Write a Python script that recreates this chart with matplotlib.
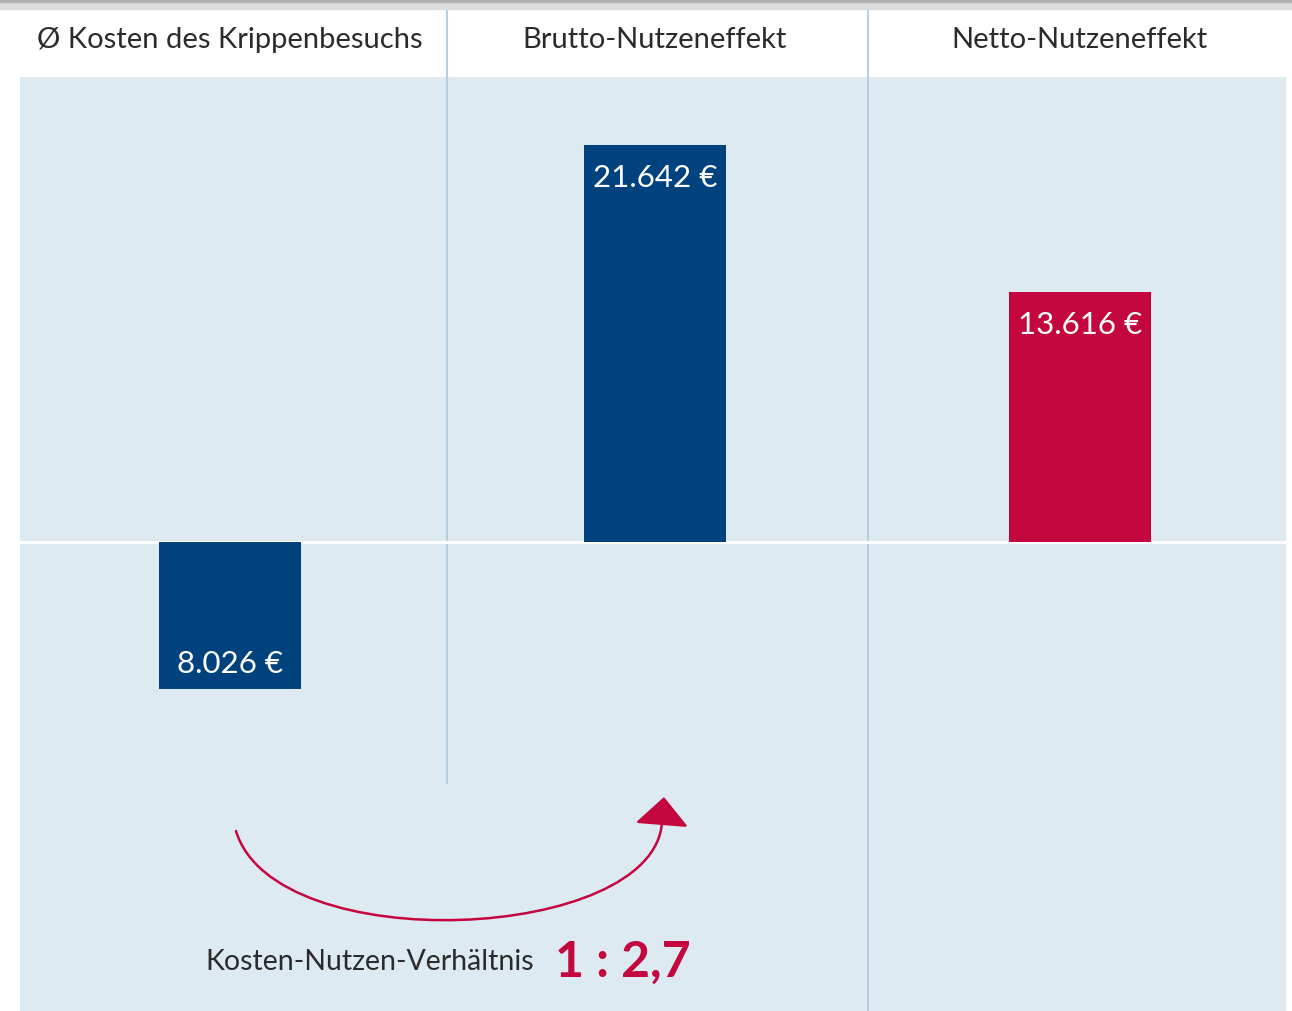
import matplotlib
matplotlib.use('Agg')
from matplotlib import pyplot as plt
from matplotlib.patches import Rectangle, FancyArrowPatch
from matplotlib.path import Path

plt.rcParams['font.family'] = ['Lato', 'DejaVu Sans']

# data
categories = ['Ø Kosten des Krippenbesuchs', 'Brutto-Nutzeneffekt', 'Netto-Nutzeneffekt']
values = [-8026, 21642, 13616]
value_labels = ['8.026 €', '21.642 €', '13.616 €']
ratio_label = 'Kosten-Nutzen-Verhältnis'
ratio_value = '1 : 2,7'

BLUE = '#00427e'
RED = '#c4063f'
PANEL = '#deeaf2'
SEP = '#b6d0e0'
TEXT = '#2b2b2b'
bar_colors = [BLUE, BLUE, RED]

W, H = 1292, 1011
fig = plt.figure(figsize=(W / 100, H / 100), dpi=100)

# grey strip on top
fig.patches.append(Rectangle((0, 1 - 9 / H), 1, 9 / H, transform=fig.transFigure,
                             color='#dcdcdc', zorder=0))
fig.patches.append(Rectangle((0, 1 - 2 / H), 1, 2 / H, transform=fig.transFigure,
                             color='#b0b0b0', zorder=0))

# panel axes: x 20..1286 px, y 77..1011 px
ax = fig.add_axes([20 / W, 0, 1266 / W, 934 / H])
ax.set_facecolor(PANEL)
for s in ax.spines.values():
    s.set_visible(False)
ax.set_xticks([])
ax.set_yticks([])

PX_X = 425          # px per category step
X0 = 230            # px of first category centre
px_per_unit = 0.01835
ax.set_xlim(-(X0 - 20) / PX_X, (1286 - X0) / PX_X)
ax.set_ylim(-469 / px_per_unit, 465 / px_per_unit)

x = list(range(len(categories)))
ax.bar(x, values, width=0.334, color=bar_colors, zorder=3)

# zero line
ax.axhline(0, color='white', lw=2.2, zorder=2)

# column separators (extend up into the white header)
top_frac = (H - 9) / 934
ax.axvline(0.51, ymin=(H - 783) / 934, ymax=top_frac, color=SEP, lw=1.5, clip_on=False, zorder=1)
ax.axvline(1.5, ymin=0, ymax=top_frac, color=SEP, lw=1.5, clip_on=False, zorder=1)

# headers
for xi, cat in zip(x, categories):
    ax.text(xi, (H - 40) / 934, cat, transform=ax.get_xaxis_transform(),
            ha='center', va='center', fontsize=21, color=TEXT, clip_on=False)

# value labels inside the bars, at the far end
for xi, v, lab in zip(x, values, value_labels):
    off = -24 if v > 0 else 18
    ax.annotate(lab, (xi, v), xytext=(0, off), textcoords='offset points',
                ha='center', va='center', fontsize=22.5, color='white', zorder=4)


def to_data(px, py):
    return ((px - X0) / PX_X, (542 - py) / px_per_unit)


# curved arrow from cost column to gross benefit column, straight tail under the head
verts = [to_data(236, 831), to_data(275, 960), to_data(655, 942), to_data(662, 822),
         to_data(664, 797)]
codes = [Path.MOVETO, Path.CURVE4, Path.CURVE4, Path.CURVE4, Path.LINETO]
arrow = FancyArrowPatch(path=Path(verts, codes),
                        arrowstyle='-|>,head_length=0.9,head_width=0.85',
                        mutation_scale=20, color=RED, lw=1.8, zorder=4)
ax.add_patch(arrow)

ax.text(*to_data(534, 962), ratio_label, ha='right', va='center', fontsize=20.5, color=TEXT)
ax.text(*to_data(555, 962), ratio_value, ha='left', va='center', fontsize=36,
        fontweight='bold', color=RED)

fig.savefig('out.png', dpi=100, facecolor='white')
